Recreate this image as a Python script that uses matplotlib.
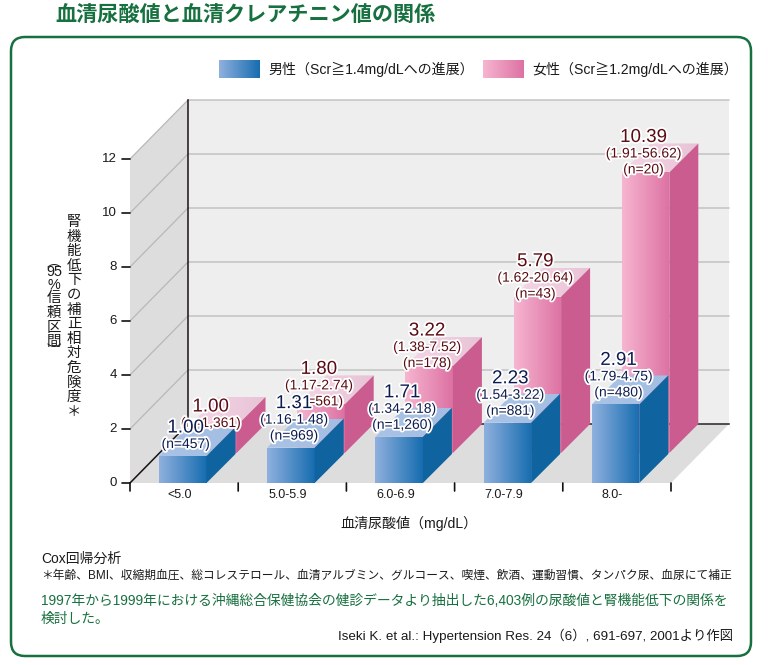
import numpy as np
import matplotlib
matplotlib.use("Agg")
import matplotlib.pyplot as plt
import matplotlib.patheffects as pe
from matplotlib.colors import LinearSegmentedColormap
from matplotlib.patches import FancyBboxPatch, Polygon

plt.rcParams["font.family"] = ["Liberation Sans", "Noto Sans CJK JP", "DejaVu Sans"]

# ----------------------------------------------------------------------------
# data
# ----------------------------------------------------------------------------
CATEGORIES = ["<5.0", "5.0-5.9", "6.0-6.9", "7.0-7.9", "8.0-"]
MALE = [1.00, 1.31, 1.71, 2.23, 2.91]
FEMALE = [1.00, 1.80, 3.22, 5.79, 10.39]
MALE_CI = [None, "(1.16-1.48)", "(1.34-2.18)", "(1.54-3.22)", "(1.79-4.75)"]
FEMALE_CI = [None, "(1.17-2.74)", "(1.38-7.52)", "(1.62-20.64)", "(1.91-56.62)"]
MALE_N = ["(n=457)", "(n=969)", "(n=1,260)", "(n=881)", "(n=480)"]
FEMALE_N = ["(n=1,361)", "(n=561)", "(n=178)", "(n=43)", "(n=20)"]
Y_TICKS = [0, 2, 4, 6, 8, 10, 12]

# ----------------------------------------------------------------------------
# layout: page pixels and the oblique projection of the chart
# ----------------------------------------------------------------------------
W, H = 768, 665
X0, PX_CAT = 130.0, 108.2   # front axis x, pixels per category
Y0, PX_VAL = 483.0, 27.0    # front axis baseline, pixels per unit
WALL_DX, WALL_DY = 58 / PX_CAT, 59 / PX_VAL    # floor depth
BAR_DX, BAR_DY = 29 / PX_CAT, 29 / PX_VAL      # bar depth
BAR_W = 47.5 / PX_CAT
BAR_OFF = 29 / PX_CAT       # gap from the category edge to the male bar
ROW_DX, ROW_DY = 30 / PX_CAT, 30 / PX_VAL      # female row behind the male row

GREEN = "#17703f"
TEXT = "#1a1a1a"
GRID = "#b8b8b8"

MALE_STYLE = dict(front=("#8fb0de", "#176db0"), top=("#a9c3e6", "#a3bee2"),
                  side="#0f649f", text="#0c1c50", label_dx=3, label_dy=0)
FEMALE_STYLE = dict(front=("#f6b5d0", "#dd72a3"), top=("#f5d6e5", "#e8c3d7"),
                    side="#cb5c8f", text="#5a0c12", label_dx=-2, label_dy=21)

fig = plt.figure(figsize=(W / 100, H / 100), dpi=100)
ax = fig.add_axes([0, 0, 1, 1])
ax.set_xlim(-X0 / PX_CAT, (W - X0) / PX_CAT)
ax.set_ylim((Y0 - H) / PX_VAL, Y0 / PX_VAL)
ax.axis("off")
page = fig.add_axes([0, 0, 1, 1])
page.set_xlim(0, W)
page.set_ylim(H, 0)
page.axis("off")
page.patch.set_alpha(0)


def gradient(poly, colors, zorder):
    """Horizontal colour ramp clipped to a polygon."""
    pts = np.array(poly)
    cmap = LinearSegmentedColormap.from_list("ramp", colors)
    im = ax.imshow(np.linspace(0, 1, 64)[None, :], cmap=cmap, aspect="auto", zorder=zorder,
                   extent=(pts[:, 0].min(), pts[:, 0].max(), pts[:, 1].min(), pts[:, 1].max()))
    clip = Polygon(poly, closed=True, transform=ax.transData)
    im.set_clip_path(clip)


def draw_bar(x, base, value, style, zorder):
    top = base + value
    right = x + BAR_W
    gradient([(x, base), (right, base), (right, top), (x, top)], style["front"], zorder)
    gradient([(x, top), (right, top), (right + BAR_DX, top + BAR_DY), (x + BAR_DX, top + BAR_DY)],
             style["top"], zorder)
    ax.add_patch(Polygon([(right, base), (right + BAR_DX, base + BAR_DY),
                          (right + BAR_DX, top + BAR_DY), (right, top)],
                         closed=True, fc=style["side"], ec="none", zorder=zorder))


def halo_text(x, y, dx, off, txt, size, color):
    """Value label placed relative to the top corner of a bar."""
    ax.annotate(txt, (x, y), xytext=(dx, off), textcoords="offset pixels", ha="center",
                va="center", fontsize=size, color=color, zorder=20,
                path_effects=[pe.withStroke(linewidth=2.6, foreground="white")])


def label_bar(x, top, value, ci, n, style):
    cx = x + BAR_W / 2
    dx, lift = style["label_dx"], style["label_dy"]
    if style is FEMALE_STYLE:
        dx += 30
    halo_text(cx, top, dx, lift + 12, n, 10, style["text"])
    upper = lift + 28
    if ci:
        halo_text(cx, top, dx, upper, ci, 10, style["text"])
        upper = lift + 44
    halo_text(cx, top, dx, upper, f"{value:.2f}", 13.5, style["text"])


# walls and floor
n_cat = len(CATEGORIES)
y_max = max(Y_TICKS)
ax.add_patch(Polygon([(WALL_DX, WALL_DY), (n_cat + WALL_DX, WALL_DY),
                      (n_cat + WALL_DX, y_max + WALL_DY), (WALL_DX, y_max + WALL_DY)],
                     closed=True, fc="#eeeeee", ec="none", zorder=1))
ax.add_patch(Polygon([(0, 0), (WALL_DX, WALL_DY), (WALL_DX, y_max + WALL_DY), (0, y_max)],
                     closed=True, fc="#dcdddc", ec="none", zorder=1))
ax.add_patch(Polygon([(0, 0), (n_cat, 0), (n_cat + WALL_DX, WALL_DY), (WALL_DX, WALL_DY)],
                     closed=True, fc="#dcdddc", ec="none", zorder=1))
for t in Y_TICKS[1:]:
    ax.plot([0, WALL_DX, n_cat + WALL_DX], [t, t + WALL_DY, t + WALL_DY],
            color=GRID, lw=0.9, zorder=2)

ax.plot([WALL_DX, n_cat + WALL_DX], [WALL_DY, WALL_DY], color="#2a2222", lw=1.1, zorder=3)
ax.plot([0, WALL_DX, WALL_DX], [0, WALL_DY, y_max + WALL_DY], color="#1a1212", lw=1.1, zorder=3)

# ticks
for t in Y_TICKS:
    ax.annotate("", (0, t), xytext=(-8, 0), textcoords="offset pixels",
                arrowprops=dict(arrowstyle="-", color="#111111", lw=1.2, shrinkA=0, shrinkB=0))
    ax.annotate(str(t), (0, t), xytext=(-13, 0), textcoords="offset pixels", ha="right",
                va="center", fontsize=9.5, color=TEXT)
for i in range(n_cat + 1):
    ax.annotate("", (i, 0), xytext=(0, -8), textcoords="offset pixels",
                arrowprops=dict(arrowstyle="-", color="#111111", lw=1.2, shrinkA=0, shrinkB=0))
for i, cat in enumerate(CATEGORIES):
    ax.annotate(cat, (i + 0.455, 0), xytext=(0, -12), textcoords="offset pixels", ha="center",
                va="center", fontsize=9, color=TEXT)

# bars, back row first
for i in range(n_cat):
    draw_bar(i + BAR_OFF + ROW_DX, ROW_DY, FEMALE[i], FEMALE_STYLE, 5)
for i in range(n_cat):
    draw_bar(i + BAR_OFF, 0, MALE[i], MALE_STYLE, 6)
for i in range(n_cat):
    label_bar(i + BAR_OFF, FEMALE[i], FEMALE[i], FEMALE_CI[i], FEMALE_N[i], FEMALE_STYLE)
    label_bar(i + BAR_OFF, MALE[i], MALE[i], MALE_CI[i], MALE_N[i], MALE_STYLE)

# page furniture
page.text(55, 15, "血清尿酸値と血清クレアチニン値の関係", fontsize=15.2, fontweight="bold",
          color=GREEN, va="center", ha="left")
page.add_patch(FancyBboxPatch((11, 37), 740, 619, boxstyle="round,pad=0,rounding_size=14",
                              fc="none", ec=GREEN, lw=1.8))


def legend_entry(x, colors, label):
    cmap = LinearSegmentedColormap.from_list("legend", colors)
    page.imshow(np.linspace(0, 1, 64)[None, :], cmap=cmap, aspect="auto",
                extent=(x, x + 41, 78, 60))
    page.text(x + 49, 69, label, fontsize=10.1, color=TEXT, va="center", ha="left")


legend_entry(219, MALE_STYLE["front"], "男性（Scr≧1.4mg/dLへの進展）")
legend_entry(483, FEMALE_STYLE["front"], "女性（Scr≧1.2mg/dLへの進展）")
page.set_xlim(0, W)
page.set_ylim(H, 0)

# vertical axis title, one glyph at a time
YLABEL_1 = "腎機能低下の補正相対危険度＊"
YLABEL_2 = ["︵", "95", "%", "信", "頼", "区", "間", "︶"]
YLABEL_2_STEP = [10, 13, 13, 15, 15, 14, 9, 0]
for k, ch in enumerate(YLABEL_1):
    page.text(74, 222 + k * 14.6, ch, fontsize=10.4, color=TEXT, ha="center", va="center")
y = 262
for ch, step in zip(YLABEL_2, YLABEL_2_STEP):
    page.text(54, y, ch, fontsize=10.4, color=TEXT, ha="center", va="center")
    y += step

page.text(409, 523, "血清尿酸値（mg/dL）", fontsize=10.1, color=TEXT, ha="center", va="center")

page.text(41, 559, "Cox回帰分析", fontsize=10, color=TEXT, va="center")
page.text(41, 576, "＊年齢、BMI、収縮期血圧、総コレステロール、血清アルブミン、グルコース、喫煙、飲酒、運動習慣、タンパク尿、血尿にて補正",
          fontsize=8.45, color=TEXT, va="center")
page.text(41, 601, "1997年から1999年における沖縄総合保健協会の健診データより抽出した6,403例の尿酸値と腎機能低下の関係を",
          fontsize=9.95, color=GREEN, va="center")
page.text(41, 619, "検討した。", fontsize=9.95, color=GREEN, va="center")
page.text(733, 636, "Iseki K. et al.: Hypertension Res. 24（6）, 691-697, 2001より作図",
          fontsize=9.6, color=TEXT, va="center", ha="right")

fig.savefig("out.png", dpi=100)
